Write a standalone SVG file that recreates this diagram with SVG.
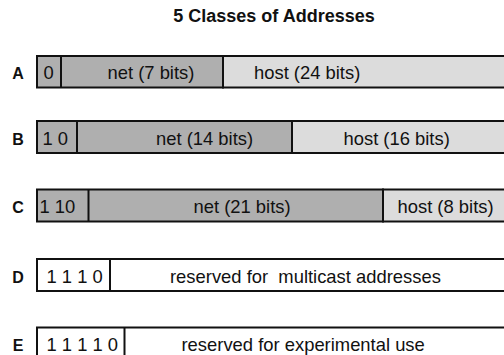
<svg xmlns="http://www.w3.org/2000/svg" width="504" height="355" viewBox="0 0 504 355">
  <style>
    .title { font-family: "Liberation Sans", Arial, Helvetica, sans-serif; font-weight: bold; font-size: 18px; fill: #111; }
    .cls { font-family: "Liberation Sans", Arial, Helvetica, sans-serif; font-weight: bold; font-size: 16px; fill: #111; text-anchor: middle; }
    .f { font-family: "Liberation Sans", Arial, Helvetica, sans-serif; font-size: 18.4px; fill: #111; }
    .box { stroke: #111; stroke-width: 2; }
    .net { fill: #afafaf; }
    .host { fill: #dcdcdc; }
    .res { fill: #ffffff; }
    .div { stroke: #111; stroke-width: 2; }
  </style>

  <text class="title" x="274" y="22" text-anchor="middle">5 Classes of Addresses</text>

  <!-- Class A: 0 | net 7 | host 24 -->
  <g id="class-a">
    <text class="cls" x="18" y="79">A</text>
    <rect class="box net" x="37" y="56" width="186" height="31.5"/>
    <rect class="box host" x="223" y="56" width="290" height="31.5"/>
    <line class="div" x1="61" y1="56" x2="61" y2="87.5"/>
    <text class="f" x="43.5" y="79">0</text>
    <text class="f" x="107.5" y="79">net (7 bits)</text>
    <text class="f" x="254" y="79">host (24 bits)</text>
  </g>

  <!-- Class B: 10 | net 14 | host 16 -->
  <g id="class-b">
    <text class="cls" x="18" y="144.5">B</text>
    <rect class="box net" x="37" y="121" width="255" height="32"/>
    <rect class="box host" x="292" y="121" width="221" height="32"/>
    <line class="div" x1="77" y1="121" x2="77" y2="153"/>
    <text class="f" x="42.5" y="144.5">1 0</text>
    <text class="f" x="156" y="144.5">net (14 bits)</text>
    <text class="f" x="343.5" y="144.5">host (16 bits)</text>
  </g>

  <!-- Class C: 110 | net 21 | host 8 -->
  <g id="class-c">
    <text class="cls" x="18" y="213">C</text>
    <rect class="box net" x="37" y="189.5" width="346" height="32"/>
    <rect class="box host" x="383" y="189.5" width="130" height="32"/>
    <line class="div" x1="88.5" y1="189.5" x2="88.5" y2="221.5"/>
    <text class="f" x="39.5" y="213">1 10</text>
    <text class="f" x="193.5" y="213">net (21 bits)</text>
    <text class="f" x="397.5" y="213">host (8 bits)</text>
  </g>

  <!-- Class D: multicast -->
  <g id="class-d">
    <text class="cls" x="18" y="282.5">D</text>
    <rect class="box res" x="37" y="259" width="476" height="32"/>
    <line class="div" x1="110" y1="259" x2="110" y2="291"/>
    <text class="f" x="46.5" y="282.5">1 1 1 0</text>
    <text class="f" x="170" y="282.5" xml:space="preserve">reserved for  multicast addresses</text>
  </g>

  <!-- Class E: experimental -->
  <g id="class-e">
    <text class="cls" x="18" y="351">E</text>
    <rect class="box res" x="37" y="327.5" width="476" height="32"/>
    <line class="div" x1="124.5" y1="327.5" x2="124.5" y2="359.5"/>
    <text class="f" x="46.5" y="351">1 1 1 1 0</text>
    <text class="f" x="181.5" y="351">reserved for experimental use</text>
  </g>

  <g id="connectors"/>
</svg>
